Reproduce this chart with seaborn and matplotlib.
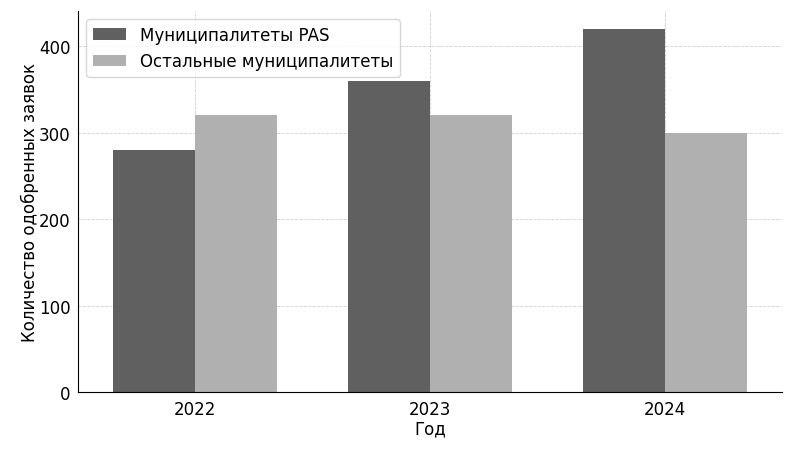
import matplotlib
matplotlib.use("Agg")
import matplotlib.pyplot as plt
from matplotlib.ticker import MultipleLocator
import seaborn as sns
import pandas as pd

years = ["2022", "2023", "2024"]
groups = ["Муниципалитеты PAS", "Остальные муниципалитеты"]
pas_values = [280, 360, 420]
other_values = [320, 320, 300]

df = pd.DataFrame({
    "Год": years * 2,
    "Группа": [groups[0]] * 3 + [groups[1]] * 3,
    "Значение": pas_values + other_values,
})

sns.set_style("white")
plt.rcParams['font.family'] = ['DejaVu Sans']
plt.rcParams['text.color'] = 'black'
plt.rcParams['axes.labelcolor'] = 'black'
plt.rcParams['xtick.color'] = 'black'
plt.rcParams['ytick.color'] = 'black'

fig, ax = plt.subplots(figsize=(8, 4.56), dpi=100)
sns.barplot(data=df, x="Год", y="Значение", hue="Группа",
            palette=["#606060", "#b0b0b0"], width=0.7, saturation=1,
            linewidth=0, ax=ax, zorder=2)
ax.yaxis.set_major_locator(MultipleLocator(100))
ax.grid(True, linestyle="--", linewidth=0.6, color="#d0d0d0", zorder=0)
ax.set_axisbelow(True)
sns.despine(ax=ax)
for s in ["left", "bottom"]:
    ax.spines[s].set_color("black")
ax.set_xlabel("Год", fontsize=12, labelpad=1)
ax.set_ylabel("Количество одобренных заявок", fontsize=12, labelpad=0)
ax.tick_params(axis="both", labelsize=12, length=2)
ax.legend(title=None, fontsize=12, loc="upper left")
fig.subplots_adjust(left=0.0975, right=0.9775, top=0.974, bottom=0.138)
fig.savefig("out.png", dpi=100)
